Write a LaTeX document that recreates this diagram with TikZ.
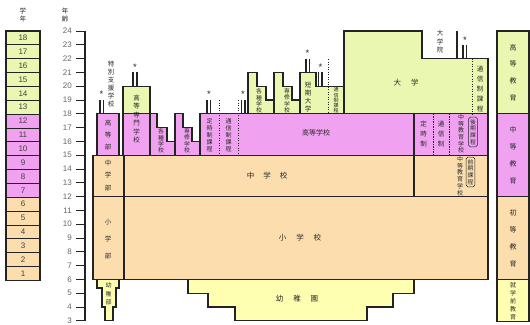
\documentclass[tikz,border=0pt]{standalone}
\usepackage{fontspec}
\setmainfont{Liberation Sans}
\newfontfamily\jp{Noto Sans CJK JP}
\definecolor{lc}{RGB}{35,35,35}
\definecolor{gc}{RGB}{234,247,176}
\definecolor{pc}{RGB}{240,162,240}
\definecolor{bc}{RGB}{252,222,174}
\definecolor{yc}{RGB}{255,255,178}
\definecolor{tc}{RGB}{40,40,40}
\tikzset{
 bx/.style={draw=lc, line width=1.3pt, line join=miter},
 ln/.style={draw=lc, line width=1.3pt},
 thinbx/.style={draw=lc, line width=0.8pt},
 dt/.style={draw=lc, line width=0.9pt, dash pattern=on 1.2pt off 1.3pt},
 jt/.style={font=\jp\fontsize{6.5}{7.6}\selectfont, align=center, inner sep=0pt, text=tc},
 num/.style={font=\fontsize{8}{9}\selectfont, inner sep=0pt, text=black!75},
 agel/.style={font=\fontsize{8}{9}\selectfont, inner sep=0pt, text=black!60, anchor=east},
 starl/.style={font=\fontsize{9.5}{10}\selectfont, inner sep=0pt, text=tc},
 stl/.style={draw=lc, line width=1.1pt},
}
\begin{document}
\begin{tikzpicture}[x=1pt,y=-1pt]
\useasboundingbox (0,0) rectangle (530,324);
% headers
\node[jt] (hgrade) at (23,15) {学\\年};
\node[jt] (hage) at (65,15) {年\\齢};
% grade column
\foreach \g in {13,...,18}{\draw[thinbx,fill=gc] (6,{31+(18-\g)*13.85}) rectangle (40,{31+(19-\g)*13.85});}
\foreach \g in {7,...,12}{\draw[thinbx,fill=pc] (6,{31+(18-\g)*13.85}) rectangle (40,{31+(19-\g)*13.85});}
\foreach \g in {1,...,6}{\draw[thinbx,fill=bc] (6,{31+(18-\g)*13.85}) rectangle (40,{31+(19-\g)*13.85});}
\draw[ln,line width=1.5pt] (6,31) rectangle (40,280.3);
\foreach \g in {1,...,18}{\node[num] (g\g) at (23,{31+(18.5-\g)*13.85}) {\g};}
% age scale
\foreach \a in {3,...,24}{
 \node[agel] (a\a) at (72,{31+(24-\a)*13.8}) {\a};
 \draw[lc,line width=0.9pt] (76,{31+(24-\a)*13.8}) -- (85,{31+(24-\a)*13.8});}
\draw[lc,line width=1.3pt] (85,30.5) -- (85,321.3);
% kindergarten
\draw[bx,fill=yc] (188,279.4) -- (414,279.4) -- (414,293.2) -- (393,293.2) -- (393,307) -- (367,307) -- (367,320.8) -- (235,320.8) -- (235,307) -- (208,307) -- (208,293.2) -- (188,293.2) -- cycle;
\draw[bx,fill=yc] (97,279.4) -- (119,279.4) -- (119,288) -- (116,288) -- (116,307) -- (113,307) -- (113,320.8) -- (105,320.8) -- (105,307) -- (102,307) -- (102,288) -- (97,288) -- cycle;
% elementary / lower secondary
\draw[bx,fill=bc] (93,155.2) rectangle (488,279.4);
\draw[ln] (93,196.6) -- (488,196.6);
\draw[ln] (124,155.2) -- (124,279.4);
\draw[ln] (414,155.2) -- (414,196.6);
% special needs upper secondary
\draw[bx,fill=pc] (97,113.8) rectangle (119,155.2);
% kosen
\draw[bx,fill=gc] (123,86.2) rectangle (150,113.8);
\draw[bx,fill=pc] (123,113.8) rectangle (150,155.2);
% kakushu / senshu (pink)
\draw[bx,fill=pc] (150,113.8) -- (157,113.8) -- (157,127.6) -- (167,127.6) -- (167,141.4) -- (175,141.4) -- (175,155.2) -- (150,155.2) -- cycle;
\draw[bx,fill=pc] (175,113.8) -- (183,113.8) -- (183,127.6) -- (192,127.6) -- (192,141.4) -- (200,141.4) -- (200,155.2) -- (175,155.2) -- cycle;
% high school band
\draw[bx,fill=pc] (200,113.8) rectangle (488,155.2);
\draw[ln] (414,113.8) -- (414,155.2);
\draw[dt] (219,100) -- (219,155.2);
\draw[dt] (238,100) -- (238,155.2);
\draw[dt] (433,113.8) -- (433,155.2);
\draw[dt] (449,113.8) -- (449,155.2);
% green upper
\draw[bx,fill=gc] (248,72.4) -- (257,72.4) -- (257,86.2) -- (266,86.2) -- (266,100) -- (274,100) -- (274,113.8) -- (248,113.8) -- cycle;
\draw[bx,fill=gc] (274,72.4) -- (283,72.4) -- (283,86.2) -- (292,86.2) -- (292,100) -- (300,100) -- (300,113.8) -- (274,113.8) -- cycle;
\draw[bx,fill=gc] (300,72.4) -- (316,72.4) -- (316,86.2) -- (344,86.2) -- (344,113.8) -- (300,113.8) -- cycle;
\draw[dt] (328,59) -- (328,113.8);
\draw[bx,fill=gc] (344,31) -- (422,31) -- (422,58.6) -- (488,58.6) -- (488,113.8) -- (344,113.8) -- cycle;
\draw[dt] (472,58.6) -- (472,113.8);
\draw[stl] (457,31) -- (457,58.6);
% star marks
\node[starl] (s1) at (101.5,94) {*};
\draw[stl] (100,100) -- (100,113.8); \draw[stl] (103.5,100) -- (103.5,113.8);
\node[starl] (s2) at (135,67) {*};
\draw[stl] (133,72) -- (133,86.2); \draw[stl] (137,72) -- (137,86.2);
\node[starl] (s3) at (209,94) {*};
\draw[stl] (207,100) -- (207,113.8); \draw[stl] (210.5,100) -- (210.5,113.8);
\node[starl] (s4) at (243,94) {*};
\draw[stl] (241.5,100) -- (241.5,113.8); \draw[stl] (245,100) -- (245,113.8);
\node[starl] (s5) at (307.5,53) {*};
\draw[stl] (306,58.6) -- (306,72.4); \draw[stl] (309.5,58.6) -- (309.5,72.4);
\node[starl] (s6) at (320.5,67) {*};
\draw[stl] (318.5,72.4) -- (318.5,86.2); \draw[stl] (322,72.4) -- (322,86.2);
\node[starl] (s7) at (465,40) {*};
\draw[stl] (463,45) -- (463,58.6); \draw[stl] (466.5,45) -- (466.5,58.6);
% legend
\draw[bx,fill=gc] (497,31) rectangle (529,113.8);
\draw[bx,fill=pc] (497,113.8) rectangle (529,196.6);
\draw[bx,fill=bc] (497,196.6) rectangle (529,279.4);
\draw[bx,fill=yc] (497,279.4) rectangle (529,321.5);
\node[jt,font=\jp\fontsize{7}{16.7}\selectfont] (lk) at (513,72.4) {高\\等\\教\\育};
\node[jt,font=\jp\fontsize{7}{17}\selectfont] (lc) at (513,155.2) {中\\等\\教\\育};
\node[jt,font=\jp\fontsize{7}{17}\selectfont] (ls) at (513,238) {初\\等\\教\\育};
\node[jt,font=\jp\fontsize{6}{8}\selectfont] (ly) at (513,301) {就\\学\\前\\教\\育};
% texts
\node[jt,font=\jp\fontsize{6.5}{8}\selectfont] (ttok) at (111,84) {特\\別\\支\\援\\学\\校};
\node[jt,font=\jp\fontsize{6.5}{12}\selectfont] (tkob) at (108,135) {高\\等\\部};
\node[jt,font=\jp\fontsize{6.5}{12.5}\selectfont] (tchb) at (108,175.5) {中\\学\\部};
\node[jt,font=\jp\fontsize{6.5}{17}\selectfont] (tshb) at (108,239) {小\\学\\部};
\node[jt,font=\jp\fontsize{6}{8.5}\selectfont] (tyob) at (108.5,294) {幼\\稚\\部};
\node[jt,font=\jp\fontsize{6.5}{8.5}\selectfont] (tkos) at (136.5,119) {高\\等\\専\\門\\学\\校};
\node[jt,font=\jp\fontsize{5.8}{6.4}\selectfont] (tkak1) at (161,141) {各\\種\\学\\校};
\node[jt,font=\jp\fontsize{5.8}{6.4}\selectfont] (tsen1) at (187,141) {専\\修\\学\\校};
\node[jt,font=\jp\fontsize{6}{7}\selectfont] (tteiji) at (209.5,135) {定\\時\\制\\課\\程};
\node[jt,font=\jp\fontsize{6}{7}\selectfont] (ttsu1) at (228.5,135) {通\\信\\制\\課\\程};
\node[jt,font=\jp\fontsize{7}{8}\selectfont] (tkoko) at (316,133) {高等学校};
\node[jt,font=\jp\fontsize{5.8}{6.4}\selectfont] (tkak2) at (259,101) {各\\種\\学\\校};
\node[jt,font=\jp\fontsize{5.8}{6.4}\selectfont] (tsen2) at (287,101) {専\\修\\学\\校};
\node[jt,font=\jp\fontsize{6.5}{8.3}\selectfont] (ttan) at (308,97) {短\\期\\大\\学};
\node[jt,font=\jp\fontsize{5}{5.3}\selectfont] (ttsu2) at (336,100.5) {通\\信\\制\\課\\程};
\node[jt,font=\jp\fontsize{7.5}{9}\selectfont] (tdai) at (406,83) {大\hspace{10pt}学};
\node[jt,font=\jp\fontsize{6.5}{8.5}\selectfont] (tdin) at (440,42) {大\\学\\院};
\node[jt,font=\jp\fontsize{6.5}{10}\selectfont] (ttsu3) at (480,89) {通\\信\\制\\課\\程};
\node[jt,font=\jp\fontsize{6.5}{10}\selectfont] (tteiji2) at (423.5,134) {定\\時\\制};
\node[jt,font=\jp\fontsize{6.5}{10}\selectfont] (ttsu4) at (441,134) {通\\信\\制};
\node[jt,font=\jp\fontsize{6}{6.6}\selectfont] (tchk) at (461,134) {中\\等\\教\\育\\学\\校};
\node[jt,font=\jp\fontsize{5.8}{6.6}\selectfont] (tkoki) at (473,132) {後\\期\\課\\程};
\draw[lc,line width=0.5pt,rounded corners=1.5pt] ([shift={(-1.2,-2)}]tkoki.north west) rectangle ([shift={(1.2,2)}]tkoki.south east);
\node[jt,font=\jp\fontsize{6}{6.8}\selectfont] (tchz) at (460,176) {中\\等\\教\\育\\学\\校};
\node[jt,font=\jp\fontsize{5.8}{6.6}\selectfont] (tzen) at (470.5,172) {前\\期\\課\\程};
\draw[lc,line width=0.5pt,rounded corners=1.5pt] ([shift={(-1.2,-2)}]tzen.north west) rectangle ([shift={(1.2,2)}]tzen.south east);
\node[jt,font=\jp\fontsize{7.5}{9}\selectfont] (tchu) at (267,176) {中\hspace{9pt}学\hspace{9pt}校};
\node[jt,font=\jp\fontsize{7.5}{9}\selectfont] (tsho) at (300,238) {小\hspace{10pt}学\hspace{10pt}校};
\node[jt,font=\jp\fontsize{7.5}{9}\selectfont] (tyoc) at (297,299) {幼\hspace{10pt}稚\hspace{10pt}園};
\end{tikzpicture}
\end{document}
